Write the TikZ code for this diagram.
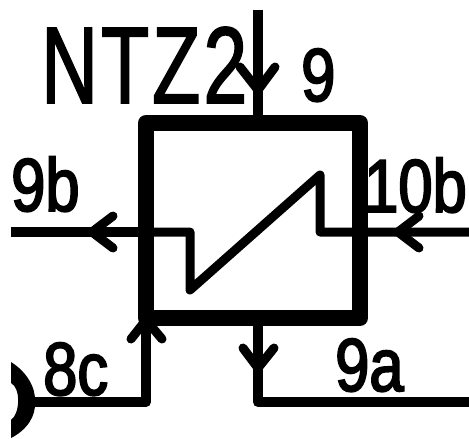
\documentclass[tikz,border=0pt]{standalone}
\usepackage{fontspec}
\newfontfamily\bigfont[FakeStretch=.72,FakeBold=1.5,LetterSpace=3]{Liberation Sans}
\newfontfamily\labfont[FakeStretch=.82,FakeBold=2.5]{Liberation Sans}
\tikzset{
  wire/.style={line width=10pt,line join=round,line cap=butt},
  barb/.style={line width=9pt,line join=miter,line cap=round},
  thinwire/.style={line width=9pt,line join=round,line cap=round},
  blockbox/.style={draw,rectangle,line width=16pt,line join=round,inner sep=0pt,minimum width=214pt,minimum height=195pt},
  title/.style={anchor=base west,inner sep=0pt,font=\bigfont\fontsize{109}{109}\selectfont},
  lab/.style={anchor=base west,inner sep=0pt,font=\labfont\fontsize{75}{75}\selectfont}
}
\begin{document}
\begin{tikzpicture}[x=1pt,y=-1pt]
\useasboundingbox (0,0) rectangle (469,439);
\fill[white] (0,0) rectangle (469,439);
% block
\node[blockbox] (blk) at (253,220.5) {};
% free ends
\coordinate (topend) at (258,10);
\coordinate (leftend) at (11,232);
\coordinate (rightend) at (469,232);
\coordinate (c8) at (146,402);
\coordinate (c8start) at (33,402);
\coordinate (c9a) at (258,402);
\coordinate (c9aend) at (469,402);
\coordinate (bin) at (146,326);
\coordinate (bout) at (258,326);
\coordinate (btop) at (258,116);
\coordinate (z1) at (190,232);
\coordinate (z2) at (190,290);
\coordinate (z3) at (320,175);
\coordinate (z4) at (320,232);
% connectors
\draw[wire] (topend) -- (btop);
\draw[wire] (blk.west |- leftend) -- (leftend);
\draw[thinwire] (blk.west |- z1) -- (z1) -- (z2) -- (z3) -- (z4) -- (rightend);
\draw[wire] (c8start) -- (c8) -- (bin);
\draw[wire] (bout) -- (c9a) -- (c9aend);
% arrowheads
\draw[barb] (240,67) -- (258,90) -- (275,67);
\draw[barb] (113,248) -- (92,232) -- (113,216);
\draw[barb] (419,248) -- (398,232) -- (419,216);
\draw[barb] (131,339) -- (146,320) -- (162,339);
\draw[barb] (243,348) -- (258,368) -- (274,348);
% crescent
\fill (11,362) .. controls (27,372) and (36,388) .. (35,402) .. controls (36,416) and (27,430) .. (11,438)
  -- (11,420) .. controls (20,414) and (21,388) .. (11,383) -- cycle;
% text
\node[title] (ntz) at (41,103) {NTZ2};
\node[lab] (l9) at (301,101) {9};
\node[lab] (l9b) at (11,211) {9b};
\node[lab] (l10b) at (364,212) {10b};
\node[lab] (l8c) at (43,395) {8c};
\node[lab] (l9a) at (335,391) {9a};
\end{tikzpicture}
\end{document}
